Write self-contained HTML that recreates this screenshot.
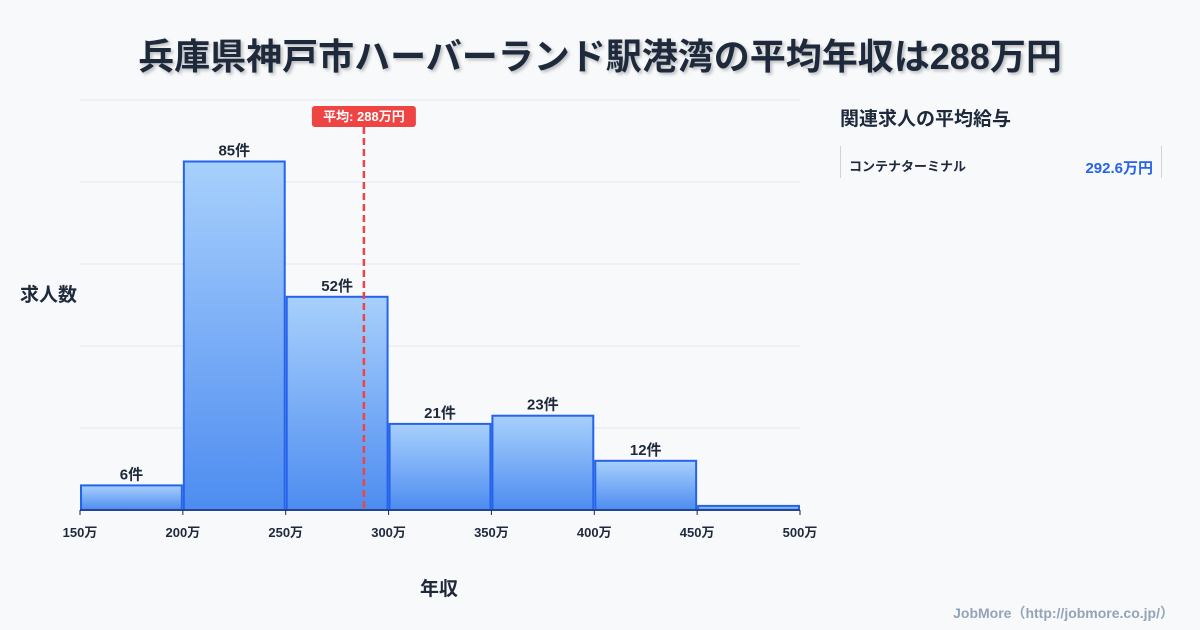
<!DOCTYPE html>
<html><head><meta charset="utf-8">
<style>
body{margin:0;width:1200px;height:630px;background:#f8f9fb;font-family:"Liberation Sans","Noto Sans CJK JP",sans-serif;overflow:hidden;position:relative}
.t{position:absolute}
</style></head><body>
<div class="t" style="left:0;width:1200px;top:28px;text-align:center;font-size:36px;font-weight:bold;color:#1e293b;text-shadow:2px 2px 3px rgba(0,0,0,0.25)">兵庫県神戸市ハーバーランド駅港湾の平均年収は288万円</div>
<div class="t" style="left:20px;top:280px;font-size:19px;font-weight:bold;color:#1e293b">求人数</div>
<div class="t" style="left:420px;top:574px;font-size:19px;font-weight:bold;color:#1e293b">年収</div>
<div class="t" style="left:840px;top:104px;font-size:19px;font-weight:bold;color:#1e293b">関連求人の平均給与</div>
<div class="t" style="left:840px;top:146px;width:320px;height:32px;border-left:1px solid #cbd5e1;border-right:1px solid #cbd5e1">
<span class="t" style="left:8px;top:10px;font-size:13px;font-weight:bold;color:#1e293b">コンテナターミナル</span>
<span class="t" style="right:8px;top:11px;font-size:15px;font-weight:bold;color:#2563eb">292.6万円</span></div>
<div class="t" style="right:26px;top:603px;font-size:14px;font-weight:bold;color:#94a3b8">JobMore（http://jobmore.co.jp/）</div>
<svg id="c" width="1200" height="630" style="position:absolute;left:0;top:0">
<defs><linearGradient id="g" x1="0" y1="0" x2="0" y2="1"><stop offset="0" stop-color="#a8d0fc"/><stop offset="1" stop-color="#4d8cf0"/></linearGradient></defs>
</svg>
<script>
const bins=[150,200,250,300,350,400,450];
const counts=[6,85,52,21,23,12,1];
const labels=["6件","85件","52件","21件","23件","12件",""];
const ticks=["150万","200万","250万","300万","350万","400万","450万","500万"];
const meanVal=288;
const X0=80,X1=800,Y0=510,Y1=100,XMIN=150,XMAX=500,YMAX=100;
const x=v=>X0+(v-XMIN)/(XMAX-XMIN)*(X1-X0);
const y=v=>Y0-v/YMAX*(Y0-Y1);
const s=document.getElementById('c');const NS="http://www.w3.org/2000/svg";
function mk(t,a,p){const e=document.createElementNS(NS,t);for(const k in a)e.setAttribute(k,a[k]);(p||s).appendChild(e);return e;}
for(let i=0;i<=5;i++){const g=mk('line',{x1:X0,x2:X1,y1:y(i*20),y2:y(i*20),stroke:'#e2e8f0'});

}
bins.forEach((b,i)=>{const r=mk('rect',{x:x(b)+1,y:y(counts[i]),width:x(b+50)-x(b)-2,height:Y0-y(counts[i]),fill:'url(#g)',stroke:'#2563eb','stroke-width':2});


if(labels[i]){const t=mk('text',{x:(x(b)+x(b+50))/2,y:y(counts[i])-6,'text-anchor':'middle','font-size':15,'font-weight':'bold',fill:'#1e293b'});t.textContent=labels[i];

}});
const ax=mk('line',{x1:X0,x2:X1,y1:Y0,y2:Y0,stroke:'#1e293b'});


ticks.forEach((tk,i)=>{const v=XMIN+i*50;mk('line',{x1:x(v),x2:x(v),y1:Y0,y2:Y0+5,stroke:'#1e293b'});
const t=mk('text',{x:x(v),y:Y0+27,'text-anchor':'middle','font-size':13,'font-weight':'bold',fill:'#1e293b'});t.textContent=tk;

});
const mx=x(meanVal);
const ml=mk('line',{x1:mx,x2:mx,y1:127,y2:Y0,stroke:'#ef4444','stroke-width':2.5,'stroke-dasharray':'7,4'});


const mb=mk('rect',{x:mx-52,y:106,width:104,height:21,rx:3,fill:'#ef4444'});


const mt=mk('text',{x:mx,y:121,'text-anchor':'middle','font-size':13,'font-weight':'bold',fill:'#fff'});mt.textContent='平均: '+meanVal+'万円';


</script>
</body></html>
